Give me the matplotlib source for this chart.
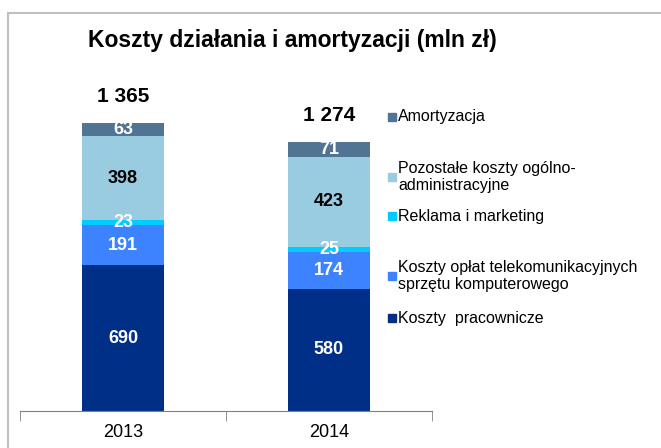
import matplotlib.pyplot as plt
from matplotlib.patches import Rectangle

plt.rcParams['font.family'] = ['Liberation Sans', 'DejaVu Sans']

years = ["2013", "2014"]
series_names = [
    "Koszty  pracownicze",
    "Koszty opłat telekomunikacyjnych\nsprzętu komputerowego",
    "Reklama i marketing",
    "Pozostałe koszty ogólno-\nadministracyjne",
    "Amortyzacja",
]
pracownicze = [690, 580]
telekom = [191, 174]
reklama = [23, 25]
pozostale = [398, 423]
amortyzacja = [63, 71]
totals = ["1 365", "1 274"]

colors = ["#002F87", "#3D82FF", "#00CCFF", "#99CBE1", "#517394"]
label_colors = ["white", "white", "white", "black", "white"]

W, H = 661, 448
fig = plt.figure(figsize=(W / 100, H / 100), dpi=100)
ax = fig.add_axes([20 / W, 1 - 411 / H, 412 / W, 351 / H])

# grey frame around the chart
fig.patches.append(Rectangle((8 / W, -0.1), 2, 1.1 - 13 / H, transform=fig.transFigure,
                             fill=False, edgecolor="#C0C0C0", linewidth=1.5))

x = [0, 1]
stack = [pracownicze, telekom, reklama, pozostale, amortyzacja]
bottom = [0, 0]
for vals, col, lc in zip(stack, colors, label_colors):
    ax.bar(x, vals, width=0.4, bottom=bottom, color=col, edgecolor="none")
    for i, v in enumerate(vals):
        ax.text(x[i], bottom[i] + v / 2, str(v), ha="center", va="center",
                color=lc, fontsize=13, fontweight="bold")
    bottom = [b + v for b, v in zip(bottom, vals)]

for i, t in enumerate(totals):
    ax.annotate(t, (x[i], bottom[i]), xytext=(0, 19), textcoords="offset points",
                ha="center", va="center", fontsize=15, fontweight="bold")

ax.set_xlim(-0.5, 1.5)
ax.set_ylim(0, 1663)
for s in ["top", "right", "left"]:
    ax.spines[s].set_visible(False)
ax.spines["bottom"].set_color("#808080")
ax.set_yticks([])
ax.set_xticks(x)
ax.set_xticklabels(years, fontsize=13)
ax.tick_params(axis="x", which="major", length=0, pad=9)
ax.set_xticks([-0.5, 0.5, 1.5], minor=True)
ax.tick_params(axis="x", which="minor", length=7, color="#808080")

fig.text(292 / W, 1 - 40 / H, "Koszty działania i amortyzacji (mln zł)",
         ha="center", va="center", fontsize=16.5, fontweight="bold")

# legend, laid out next to the segments
legend_y = [318, 276, 216, 177, 117]
for name, col, yy in zip(series_names, colors, legend_y):
    fig.patches.append(Rectangle((388 / W, 1 - (yy + 4) / H), 8 / W, 8 / H,
                                 transform=fig.transFigure, color=col))
    fig.text(398 / W, 1 - yy / H, name, ha="left", va="center",
             fontsize=11.5, linespacing=1.2)

fig.savefig("out.png", dpi=100)
